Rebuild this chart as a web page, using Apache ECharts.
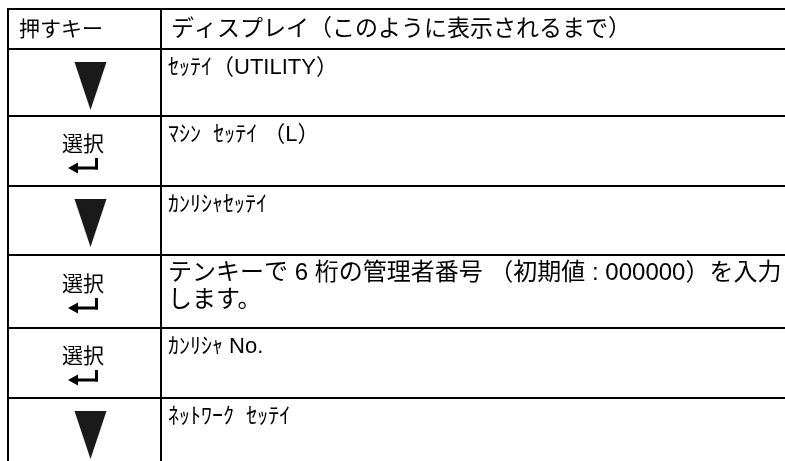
<!DOCTYPE html>
<html><head><meta charset="utf-8">
<script src="https://cdn.jsdelivr.net/npm/echarts@6/dist/echarts.min.js"></script>
<style>html,body{margin:0;padding:0;background:#fff}#c{width:785px;height:461px}</style>
</head><body><div id="c"></div>
<script>
// ---- data ----
const headerKey = '押すキー';
const headerDisplay = 'ディスプレイ（このように表示されるまで）';
const keys = ['down', 'select', 'down', 'select', 'select', 'down'];
const selectLabel = '選択';
const displays = [
  'ｾｯﾃｲ（UTILITY）',
  'ﾏｼﾝ  ｾｯﾃｲ （L）',
  'ｶﾝﾘｼｬｾｯﾃｲ',
  'テンキーで 6 桁の管理者番号 （初期値 : 000000）を入力\nします。',
  'ｶﾝﾘｼｬ No.',
  'ﾈｯﾄﾜｰｸ  ｾｯﾃｲ'
];
const displaySizes = [22, 22, 22, 24, 22, 22];

// ---- layout (table units, top of table = 0) ----
const X_MAX = 777, DIVIDER = 153;
const Y_MAX = 452;
const EDGES = [0, 40, 107, 177, 246, 319, 389, 470];
const FONT = '"Liberation Sans", Arial, "Noto Sans CJK JP", sans-serif';

const rows = keys.map((k, i) => [i, k, displays[i], displaySizes[i]]);

const chart = echarts.init(document.getElementById('c'), null, {renderer: 'canvas'});

function hline(x1, x2, y) {
  return {type: 'line', shape: {x1, y1: y, x2, y2: y}, style: {stroke: '#000', lineWidth: 2}};
}
function vline(x, y1, y2) {
  return {type: 'line', shape: {x1: x, y1, x2: x, y2}, style: {stroke: '#000', lineWidth: 2}};
}

chart.setOption({
  animation: false,
  grid: {left: 8, right: 0, top: 9, bottom: 0},
  xAxis: {type: 'value', min: 0, max: X_MAX, show: false},
  yAxis: {type: 'value', inverse: true, min: 0, max: Y_MAX, show: false},
  series: [
    {
      type: 'custom',
      data: [[0]],
      clip: false,
      renderItem(params, api) {
        const tl = api.coord([0, EDGES[0]]);
        const br = api.coord([X_MAX, EDGES[1]]);
        const dv = api.coord([DIVIDER, 0]);
        const midY = (tl[1] + br[1]) / 2 + 1;
        return {
          type: 'group',
          children: [
            hline(tl[0] - 1, br[0] + 1, tl[1]),
            hline(tl[0] - 1, br[0] + 1, br[1]),
            vline(tl[0], tl[1], br[1]),
            vline(dv[0], tl[1], br[1]),
            {type: 'text', style: {text: headerKey, x: tl[0] + 11, y: midY, textVerticalAlign: 'middle',
              font: '21px ' + FONT, fill: '#000'}},
            {type: 'text', style: {text: headerDisplay, x: dv[0] + 10, y: midY, textVerticalAlign: 'middle',
              font: '23px ' + FONT, fill: '#000'}}
          ]
        };
      }
    },
    {
      type: 'custom',
      data: rows,
      clip: false,
      renderItem(params, api) {
        const i = api.value(0);
        const kind = rows[params.dataIndex][1];
        const text = rows[params.dataIndex][2];
        const size = rows[params.dataIndex][3];
        const tl = api.coord([0, EDGES[i + 1]]);
        const br = api.coord([X_MAX, EDGES[i + 2]]);
        const dv = api.coord([DIVIDER, 0]);
        const top = tl[1];
        const h = Math.min(br[1] - top, 72);
        const cx = (tl[0] + dv[0]) / 2 + 6;
        const children = [
          hline(tl[0] - 1, br[0] + 1, top),
          vline(tl[0], top, br[1]),
          vline(dv[0], top, br[1])
        ];
        if (kind === 'down') {
          const w = 32, t = top + 13, b = top + 61;
          children.push({type: 'polygon', shape: {points: [
            [cx - w / 2, t], [cx + w / 2, t], [cx, b]
          ]}, style: {fill: '#1a1a1a'}});
        } else {
          const sx = cx - 7.5;
          const off = (h - 70) / 2;
          children.push({type: 'text', style: {text: selectLabel, x: sx, y: top + 29 + off,
            textAlign: 'center', textVerticalAlign: 'middle', font: '21px ' + FONT, fill: '#000'}});
          const ay = top + 52 + off;
          children.push({type: 'line', shape: {x1: sx - 7, y1: ay, x2: sx + 15, y2: ay},
            style: {stroke: '#000', lineWidth: 3}});
          children.push({type: 'line', shape: {x1: sx + 13.5, y1: ay + 1.5, x2: sx + 13.5, y2: ay - 10},
            style: {stroke: '#000', lineWidth: 3}});
          children.push({type: 'polygon', shape: {points: [
            [sx - 15, ay], [sx - 5, ay - 5.5], [sx - 5, ay + 5.5]
          ]}, style: {fill: '#000'}});
        }
        children.push({type: 'text', style: {text, x: dv[0] + 7, y: top + 5,
          textVerticalAlign: 'top', font: size + 'px ' + FONT, lineHeight: 27, fill: '#000'}});
        return {type: 'group', children};
      }
    }
  ]
});
</script>
</body></html>
